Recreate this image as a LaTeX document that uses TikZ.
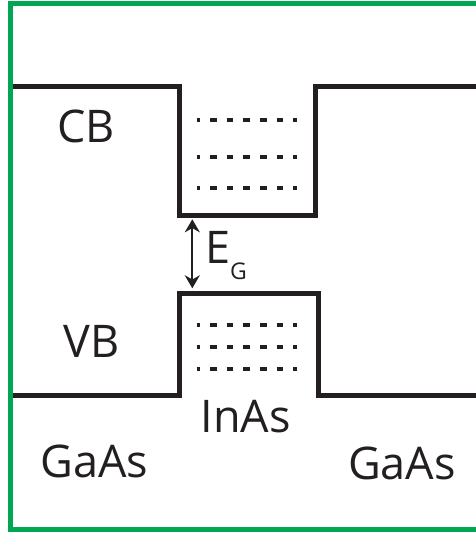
\documentclass[tikz,border=0pt]{standalone}
\usepackage{fontspec}
\setmainfont{Open Sans}
\usetikzlibrary{arrows.meta}
\definecolor{framegreen}{RGB}{0,166,81}
\definecolor{ink}{RGB}{35,31,32}
\begin{document}
\begin{tikzpicture}[x=1pt, y=-1pt, >={Stealth[length=13pt,width=15pt]},
  band/.style={ink, line width=4.6pt, line join=miter},
  level/.style={ink, line width=4.3pt, dash pattern=on 6.67pt off 10pt, dash phase=3.33pt},
  label/.style={ink, font=\fontsize{45}{54}\selectfont, inner sep=0pt}]
  \useasboundingbox (0,0) rectangle (476,533);

  % Conduction band with the well
  \coordinate (CL) at (10,86.7);
  \coordinate (CA) at (179.5,86.7);
  \coordinate (CB1) at (179.5,215.5);
  \coordinate (CB2) at (315.5,215.5);
  \coordinate (CD) at (315.5,86.7);
  \coordinate (CR) at (480,86.7);
  \draw[band] (CL) -- (CA) -- (CB1) -- (CB2) -- (CD) -- (CR);

  % Valence band with the well
  \coordinate (VL) at (10,395.3);
  \coordinate (VA) at (179.5,395.3);
  \coordinate (VT1) at (179.5,293.3);
  \coordinate (VT2) at (318.7,293.3);
  \coordinate (VD) at (318.7,395.3);
  \coordinate (VR) at (480,395.3);
  \draw[band] (VL) -- (VA) -- (VT1) -- (VT2) -- (VD) -- (VR);

  % Confined levels
  \foreach \y in {120,156.7,188.3,325,346.7,369.3}
    \draw[level] (196.7,\y) -- (296.7,\y);

  % Gap arrow
  \coordinate (gtop) at (192.3,219.3);
  \coordinate (gbot) at (192.3,288.3);
  \draw[ink, line width=2.2pt, <->] (gtop) -- (gbot);
  \node[label, anchor=base west] (eg) at (205,263)
    {E\raisebox{-16pt}{\fontsize{23}{23}\selectfont G}};

  % Labels
  \node[label] (cb) at (86,126) {CB};
  \node[label] (vb) at (91.5,341) {VB};
  \node[label] (inas) at (245.5,416.5) {InAs};
  \node[label] (gasl) at (94.5,461.5) {GaAs};
  \node[label] (gasr) at (402,463) {GaAs};

  % Frame
  \draw[framegreen, line width=5pt] (10.5,3.5) rectangle (500,529.5);
\end{tikzpicture}
\end{document}
